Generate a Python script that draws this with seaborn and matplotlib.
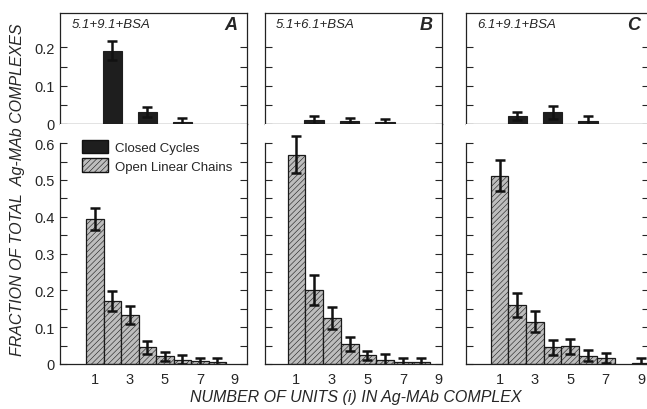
import matplotlib.pyplot as plt
import seaborn as sns
import numpy as np
import pandas as pd

sns.set_theme(style="ticks")
plt.rcParams['font.family'] = ['Liberation Sans', 'DejaVu Sans']
plt.rcParams['hatch.color'] = '#8a8a8a'
plt.rcParams['hatch.linewidth'] = 0.4

# panel labels and antibody mixtures
panel_letters = ['A', 'B', 'C']
mixtures = ['5.1+9.1+BSA', '5.1+6.1+BSA', '6.1+9.1+BSA']

# closed cycles (top row)
cycle_units = [2, 4, 6]
cycles = [
    [0.192, 0.032, 0.005],
    [0.010, 0.008, 0.004],
    [0.021, 0.031, 0.009],
]
cycles_err = [
    [0.026, 0.013, 0.010],
    [0.011, 0.008, 0.009],
    [0.010, 0.017, 0.011],
]

# open linear chains (bottom row)
chain_units = [
    [1, 2, 3, 4, 5, 6, 7, 8],
    [1, 2, 3, 4, 5, 6, 7, 8],
    [1, 2, 3, 4, 5, 6, 7, 9],
]
chains = [
    [0.394, 0.170, 0.134, 0.045, 0.021, 0.012, 0.007, 0.005],
    [0.569, 0.201, 0.125, 0.054, 0.024, 0.012, 0.005, 0.005],
    [0.512, 0.161, 0.115, 0.045, 0.048, 0.023, 0.016, 0.003],
]
chains_err = [
    [0.030, 0.027, 0.024, 0.018, 0.012, 0.012, 0.010, 0.010],
    [0.050, 0.042, 0.030, 0.020, 0.012, 0.014, 0.010, 0.011],
    [0.042, 0.033, 0.029, 0.020, 0.020, 0.016, 0.014, 0.012],
]

W, H = 647, 410
panel_x = [(60, 247), (265, 442), (466, 649)]
panel_xlim = [(-1.0, 9.7), (-0.77, 9.2), (-0.9, 9.45)]
top_y = (14, 125)
bot_y = (125, 365)

dark = '#1e1e1e'
light = '#bdbdbd'

fig = plt.figure(figsize=(W / 100, H / 100), dpi=100)


def px_axes(x0, x1, y0, y1):
    return fig.add_axes([x0 / W, (H - y1) / H, (x1 - x0) / W, (y1 - y0) / H])


for k in range(3):
    x0, x1 = panel_x[k]

    # --- top: closed cycles ---
    ax = px_axes(x0, x1, *top_y)
    df_c = pd.DataFrame({'units': cycle_units, 'frac': cycles[k]})
    sns.barplot(data=df_c, x='units', y='frac', native_scale=True, width=0.55,
                color=dark, edgecolor=dark, linewidth=0.8, errorbar=None,
                saturation=1, ax=ax)
    ax.errorbar(cycle_units, cycles[k], yerr=cycles_err[k], fmt='none',
                ecolor='#111111', elinewidth=1.8, capsize=3.5, capthick=1.8)
    ax.set_xlim(*panel_xlim[k])
    ax.set_ylim(0, 0.29)
    ax.set_xticks([])
    ax.set_yticks(np.arange(0, 0.21, 0.05))
    if k == 0:
        ax.set_yticklabels(['0', '', '0.1', '', '0.2'])
    else:
        ax.set_yticklabels([])
    ax.tick_params(axis='y', direction='in', left=True, right=True,
                   length=5, width=0.8, labelsize=10.5, pad=4)
    for s in ax.spines.values():
        s.set_linewidth(0.9)
        s.set_color('#222222')
    ax.set_xlabel('')
    ax.set_ylabel('')
    ax.text(0.06, 0.9, mixtures[k], transform=ax.transAxes, style='italic',
            fontsize=9.5, va='center', ha='left')
    ax.text(0.95, 0.9, panel_letters[k], transform=ax.transAxes, style='italic',
            fontsize=13, va='center', ha='right', fontweight='bold')

    # --- bottom: open linear chains ---
    ax = px_axes(x0, x1, *bot_y)
    df_o = pd.DataFrame({'units': chain_units[k], 'frac': chains[k]})
    sns.barplot(data=df_o, x='units', y='frac', native_scale=True, width=1.0,
                color=light, edgecolor='#1a1a1a', linewidth=0.9, errorbar=None,
                saturation=1, ax=ax)
    for p in ax.patches:
        p.set_hatch('//////')
    ax.errorbar(chain_units[k], chains[k], yerr=chains_err[k], fmt='none',
                ecolor='#111111', elinewidth=1.8, capsize=3.5, capthick=1.8)
    ax.set_xlim(*panel_xlim[k])
    ax.set_ylim(0, 0.652)
    ax.set_xticks([1, 3, 5, 7, 9])
    ax.tick_params(axis='x', length=0, labelsize=10.5, pad=6)
    ax.set_yticks(np.arange(0, 0.61, 0.05))
    if k == 0:
        ax.set_yticklabels(['0', '', '0.1', '', '0.2', '', '0.3', '',
                            '0.4', '', '0.5', '', '0.6'])
    else:
        ax.set_yticklabels([])
    ax.tick_params(axis='y', direction='in', left=True, right=True,
                   length=5, width=0.8, labelsize=10.5, pad=4)
    ax.spines['top'].set_visible(False)
    ax.spines['left'].set_bounds(0, 0.6)
    for s in ax.spines.values():
        s.set_linewidth(0.9)
        s.set_color('#222222')
    ax.set_xlabel('')
    ax.set_ylabel('')

    if k == 0:
        handles = [plt.Rectangle((0, 0), 1, 1, facecolor=dark, edgecolor='#111111'),
                   plt.Rectangle((0, 0), 1, 1, facecolor=light, edgecolor='#111111',
                                 hatch='//////')]
        ax.legend(handles, ['Closed Cycles', 'Open Linear Chains'],
                  loc='upper left', bbox_to_anchor=(0.12, 0.935), frameon=False,
                  fontsize=9.5, handlelength=1.9, handleheight=1.2,
                  handletextpad=0.6, labelspacing=0.35, borderaxespad=0,
                  borderpad=0)

fig.text(18 / W, 1 - 190 / H, 'FRACTION OF TOTAL  Ag-MAb COMPLEXES',
         rotation=90, style='italic', fontsize=11.5, ha='center', va='center')
fig.text(356 / W, 1 - 398 / H, 'NUMBER OF UNITS (i) IN Ag-MAb COMPLEX',
         style='italic', fontsize=11.5, ha='center', va='center')

fig.savefig('out.png', dpi=100)
